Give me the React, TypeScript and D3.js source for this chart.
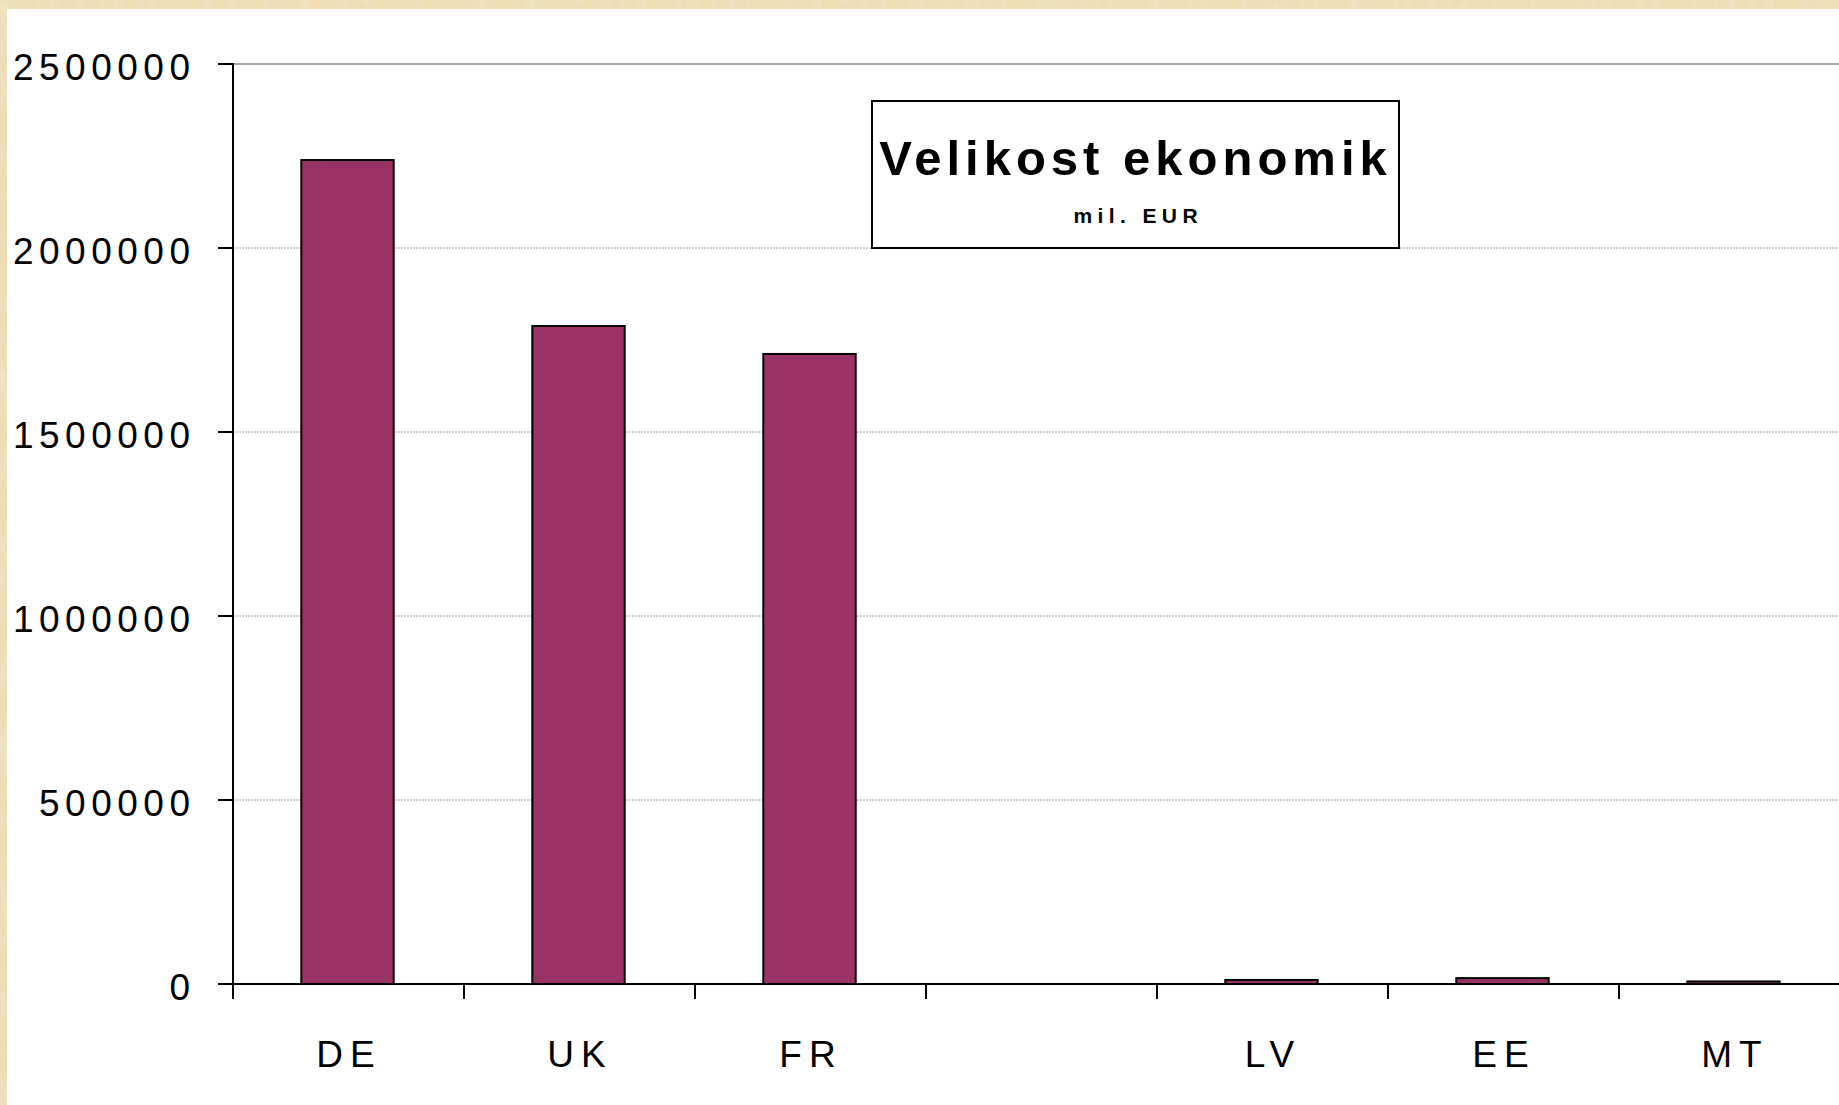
import React from "react";
import * as d3 from "d3";

const categories = ["DE", "UK", "FR", "", "LV", "EE", "MT"];
const values: (number | null)[] = [2239000, 1788000, 1712000, null, 11000, 16000, 7000];
const yTicks = [0, 500000, 1000000, 1500000, 2000000, 2500000];
const titleText = "Velikost ekonomik";
const subtitleText = "mil. EUR";

const W = 1839;
const H = 1105;
const FONT = "'Liberation Sans', Arial, Helvetica, sans-serif";

export default function App() {
  const x0 = 233;
  const x1 = 1850;
  const yTop = 64;
  const yZero = 984;

  const x = d3
    .scaleBand<string>()
    .domain(categories)
    .range([x0 - 1, x1 - 1])
    .paddingInner(0.6)
    .paddingOuter(0.3);
  const y = d3.scaleLinear().domain([0, 2500000]).range([yZero, yTop]);
  const step = x.step();
  const tickLs = 5.5;
  const xLs = 7;

  return (
    <svg
      width={W}
      height={H}
      style={{ position: "absolute", left: 0, top: 0, display: "block" }}
    >
      <defs>
        <filter id="paper" x="0" y="0" width="100%" height="100%">
          <feTurbulence type="fractalNoise" baseFrequency="0.08 0.03" numOctaves={3} seed={4} result="n" />
          <feColorMatrix
            in="n"
            type="matrix"
            values="0 0 0 0 0.88  0 0 0 0 0.78  0 0 0 0 0.58  0 0 0 -1.8 1.2"
            result="c"
          />
          <feComposite in="c" in2="SourceGraphic" operator="over" />
        </filter>
      </defs>
      <rect x={0} y={0} width={W} height={H} fill="#E9D3A4" />
      <rect x={0} y={0} width={W} height={H} fill="#F0DDB5" filter="url(#paper)" opacity={0.9} />
      <rect x={7} y={9} width={W - 7} height={H - 9} fill="#ffffff" />

      {/* gridlines */}
      {yTicks
        .filter((t) => t > 0)
        .map((t) => (
          <line
            key={"g" + t}
            x1={x0}
            x2={x1}
            y1={y(t)}
            y2={y(t)}
            stroke={t === 2500000 ? "#a8a8a8" : "#a0a0a0"}
            strokeWidth={t === 2500000 ? 2 : 1}
            strokeDasharray={t === 2500000 ? undefined : "2 1"}
          />
        ))}

      {/* bars */}
      {categories.map((c, i) => {
        const v = values[i];
        if (v == null) return null;
        return (
          <rect
            key={"b" + c}
            x={x(c)}
            y={y(v)}
            width={x.bandwidth()}
            height={yZero - y(v)}
            fill="#993366"
            stroke="#000"
            strokeWidth={2}
          />
        );
      })}

      {/* y axis */}
      <line x1={x0} x2={x0} y1={yTop - 1} y2={yZero + 15} stroke="#000" strokeWidth={2} />
      {yTicks.map((t) => (
        <g key={"yt" + t}>
          <line x1={x0 - 15} x2={x0} y1={y(t)} y2={y(t)} stroke="#000" strokeWidth={2} />
          <text
            x={190 + tickLs}
            y={y(t) + 16}
            textAnchor="end"
            fontFamily={FONT}
            fontSize={37}
            letterSpacing={tickLs}
            fill="#000"
          >
            {String(t)}
          </text>
        </g>
      ))}

      {/* x axis */}
      <line x1={x0 - 15} x2={x1} y1={yZero} y2={yZero} stroke="#000" strokeWidth={2} />
      {categories.map((c, i) => (
        <line
          key={"xt" + i}
          x1={x0 + step * (i + 1)}
          x2={x0 + step * (i + 1)}
          y1={yZero}
          y2={yZero + 15}
          stroke="#000"
          strokeWidth={2}
        />
      ))}
      {categories.map((c, i) => (
        <text
          key={"xl" + i}
          x={(x(c) as number) + x.bandwidth() / 2 + xLs / 2 - 2}
          y={1067}
          textAnchor="middle"
          fontFamily={FONT}
          fontSize={37}
          letterSpacing={xLs}
          fill="#000"
        >
          {c}
        </text>
      ))}

      {/* title box */}
      <rect x={872} y={101} width={527} height={147} fill="#fff" stroke="#000" strokeWidth={2} />
      <text
        x={1133 + 2.5}
        y={175}
        textAnchor="middle"
        fontFamily={FONT}
        fontWeight="bold"
        fontSize={49}
        letterSpacing={5}
        fill="#000"
      >
        {titleText}
      </text>
      <text
        x={1135.5 + 2.7}
        y={223}
        textAnchor="middle"
        fontFamily={FONT}
        fontWeight="bold"
        fontSize={21}
        letterSpacing={5.4}
        fill="#000"
      >
        {subtitleText}
      </text>
    </svg>
  );
}
